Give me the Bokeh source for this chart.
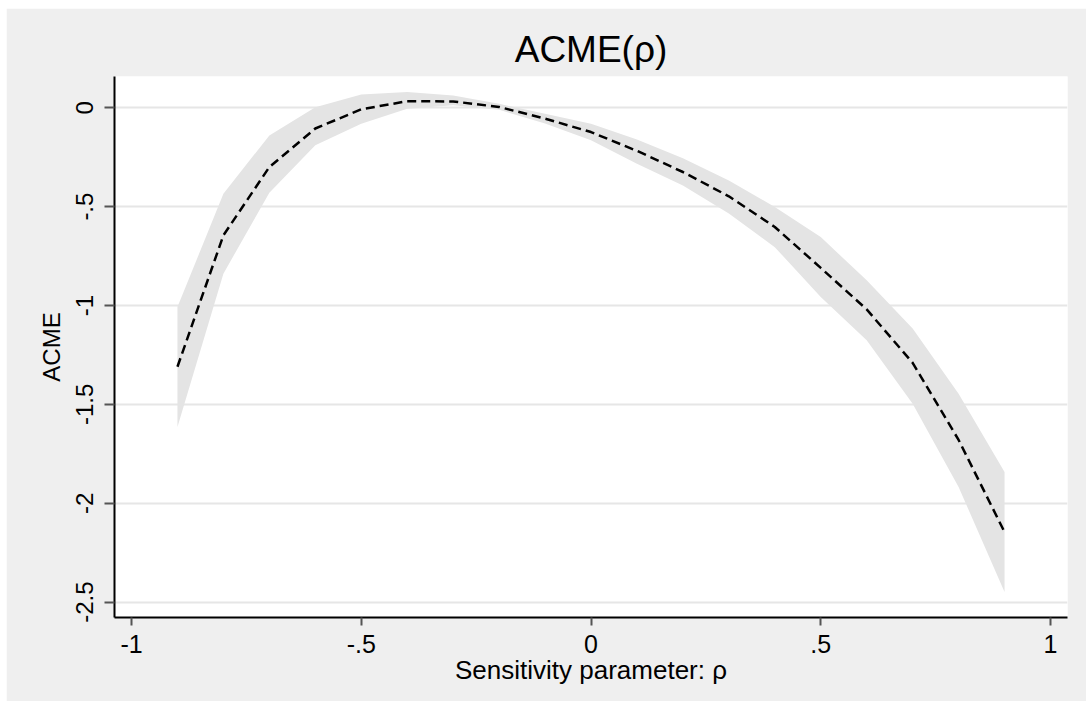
from bokeh.plotting import figure
from bokeh.models import Range1d, FixedTicker
from bokeh.embed import file_html
from bokeh.resources import INLINE

# Data
rho = [-0.9, -0.8, -0.7, -0.6, -0.5, -0.4, -0.3, -0.2, -0.1, 0.0,
       0.1, 0.2, 0.3, 0.4, 0.5, 0.6, 0.7, 0.8, 0.9]
acme = [-1.31, -0.645, -0.30, -0.105, -0.008, 0.033, 0.032, 0.004, -0.055, -0.123,
        -0.218, -0.325, -0.448, -0.603, -0.81, -1.02, -1.29, -1.68, -2.146]
ci_upper = [-1.008, -0.435, -0.14, 0.003, 0.067, 0.079, 0.062, 0.02, -0.03, -0.081,
            -0.16, -0.255, -0.368, -0.502, -0.654, -0.873, -1.117, -1.446, -1.842]
ci_lower = [-1.615, -0.839, -0.43, -0.19, -0.081, -0.005, 0.012, -0.01, -0.08, -0.165,
            -0.283, -0.393, -0.535, -0.705, -0.957, -1.176, -1.497, -1.918, -2.449]

x_ticks = [-1, -0.5, 0, 0.5, 1]
x_tick_labels = ["-1", "-.5", "0", ".5", "1"]
y_ticks = [0, -0.5, -1, -1.5, -2, -2.5]
y_tick_labels = ["0", "-.5", "-1", "-1.5", "-2", "-2.5"]

FONT = "Liberation Sans"
BG = "#EFEFEF"

p = figure(width=1080, height=693, output_backend="svg", toolbar_location=None,
           x_range=Range1d(-1.037, 1.037), y_range=Range1d(-2.578, 0.158),
           min_border_left=108, min_border_right=19, min_border_top=68, min_border_bottom=84)
p.margin = (8, 0, 0, 6)

p.border_fill_color = BG
p.background_fill_color = "white"
p.outline_line_color = None

# Band and line
p.varea(x=rho, y1=ci_lower, y2=ci_upper, fill_color="#E4E4E4", fill_alpha=1.0)
p.line(x=rho, y=acme, line_color="black", line_width=2.5, line_dash="9 5")

# Title
p.title.text = "ACME(\u03c1)"
p.title.align = "center"
p.title.text_font = FONT
p.title.text_font_size = "37px"
p.title.text_font_style = "normal"
p.title.text_color = "black"
p.title.standoff = 13

# Grid
p.xgrid.grid_line_color = None
p.ygrid.grid_line_color = "#E6E6E6"
p.ygrid.grid_line_width = 2
p.ygrid.ticker = FixedTicker(ticks=y_ticks)

# X axis
xa = p.xaxis[0]
xa.ticker = FixedTicker(ticks=x_ticks)
xa.major_label_overrides = {t: l for t, l in zip(x_ticks, x_tick_labels)}
xa.axis_label = "Sensitivity parameter: \u03c1"
xa.axis_line_color = "black"
xa.axis_line_width = 2
xa.major_tick_line_color = "#555555"
xa.major_tick_line_width = 2
xa.major_tick_out = 8
xa.major_tick_in = 0
xa.minor_tick_line_color = None
xa.major_label_text_font = FONT
xa.major_label_text_font_size = "25px"
xa.major_label_text_color = "black"
xa.major_label_standoff = 9
xa.axis_label_text_font = FONT
xa.axis_label_text_font_size = "26px"
xa.axis_label_text_font_style = "normal"
xa.axis_label_text_color = "black"
xa.axis_label_standoff = -1

# Y axis
ya = p.yaxis[0]
ya.ticker = FixedTicker(ticks=y_ticks)
ya.major_label_overrides = {t: l for t, l in zip(y_ticks, y_tick_labels)}
ya.axis_label = "ACME"
ya.axis_line_color = "black"
ya.axis_line_width = 2
ya.major_tick_line_color = "#555555"
ya.major_tick_line_width = 2
ya.major_tick_out = 10
ya.major_tick_in = 0
ya.minor_tick_line_color = None
ya.major_label_orientation = "vertical"
ya.major_label_text_font = FONT
ya.major_label_text_font_size = "24px"
ya.major_label_text_color = "black"
ya.major_label_standoff = 11
ya.axis_label_text_font = FONT
ya.axis_label_text_font_size = "24px"
ya.axis_label_text_font_style = "normal"
ya.axis_label_text_color = "black"
ya.axis_label_standoff = 9

open("out.html", "w").write(file_html(p, INLINE))
